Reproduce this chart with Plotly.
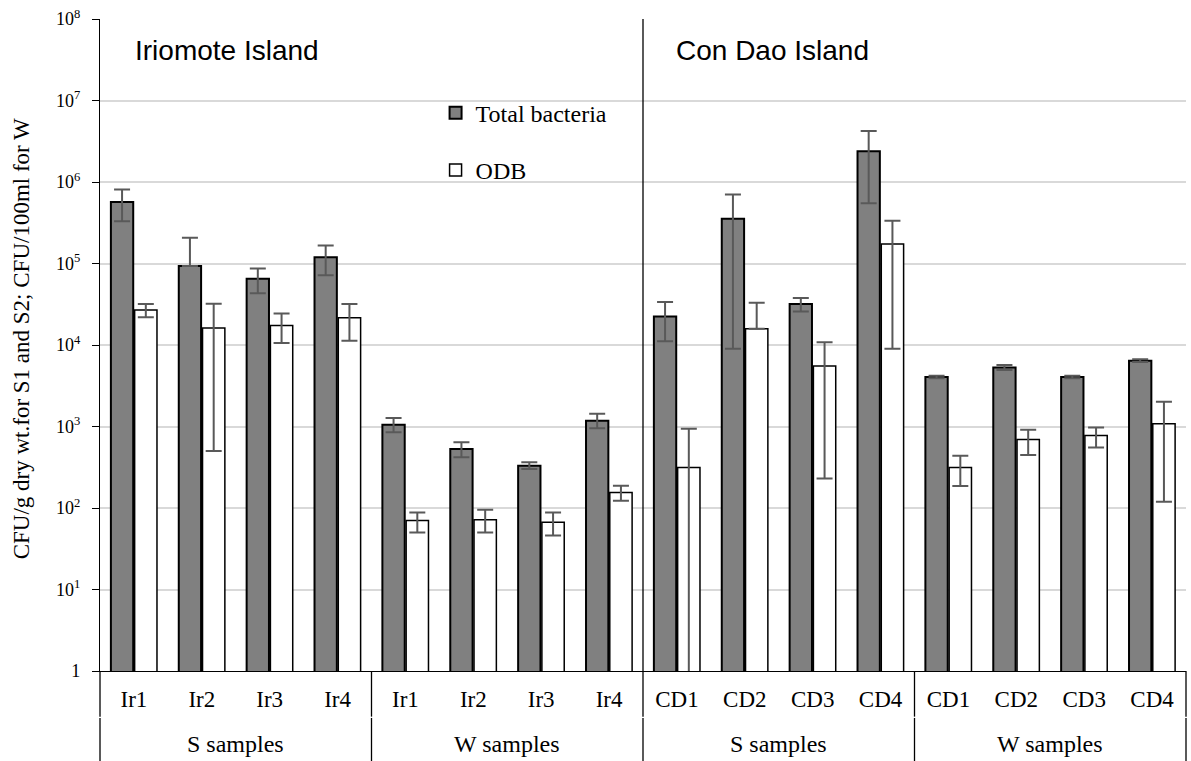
import plotly.graph_objects as go

# Sample labels (bottom row) and their sample-type groups (second row)
samples = ["Ir1", "Ir2", "Ir3", "Ir4", "Ir1", "Ir2", "Ir3", "Ir4",
           "CD1", "CD2", "CD3", "CD4", "CD1", "CD2", "CD3", "CD4"]
groups = ["S samples", "W samples", "S samples", "W samples"]
group_size = 4
islands = ["Iriomote Island", "Con Dao Island"]

# Total bacteria counts with error bar extents (upper / lower)
total_cfu = [5.7e5, 9.3e4, 6.5e4, 1.19e5, 1050, 530, 330, 1180,
             2.24e4, 3.55e5, 3.18e4, 2.38e6, 4050, 5310, 4050, 6420]
total_up = [2.4e5, 1.14e5, 2.2e4, 4.7e4, 220, 110, 33, 250,
            1.13e4, 3.45e5, 6.0e3, 1.84e6, 150, 380, 150, 250]
total_down = [2.4e5, 0, 2.2e4, 4.7e4, 200, 110, 30, 230,
              1.13e4, 3.46e5, 6.0e3, 1.83e6, 150, 380, 150, 250]

# Oil-degrading bacteria (ODB) counts with error bar extents
odb_cfu = [2.69e4, 1.62e4, 1.74e4, 2.16e4, 70, 72, 67, 155,
           315, 1.58e4, 5530, 1.73e5, 315, 695, 778, 1080]
odb_up = [5.0e3, 1.58e4, 7.0e3, 1.03e4, 18, 23, 21, 33,
          625, 1.72e4, 5.3e3, 1.62e5, 123, 219, 197, 930]
odb_down = [5.0e3, 1.57e4, 6.8e3, 1.03e4, 20, 22, 21, 32,
            315, 0, 5.3e3, 1.64e5, 129, 248, 224, 961]

y_ticks = [1, 10, 1e2, 1e3, 1e4, 1e5, 1e6, 1e7, 1e8]
y_ticktext = ["1"] + [f"10<sup>{k}</sup>" for k in range(1, 9)]

SERIF = "Liberation Serif, Times New Roman, serif"
SANS = "Liberation Sans, Arial, sans-serif"
ERR_COLOR = "#595959"

n = len(samples)
xpos = list(range(n))

fig = go.Figure()
fig.add_trace(go.Bar(
    x=xpos, y=total_cfu, name="Total bacteria", legendgroup="total",
    marker=dict(color="#808080", line=dict(color="black", width=2)),
    error_y=dict(type="data", symmetric=False, array=total_up, arrayminus=total_down,
                 color=ERR_COLOR, thickness=2, width=8),
))
fig.add_trace(go.Bar(
    x=xpos, y=odb_cfu, name="ODB", legendgroup="odb",
    marker=dict(color="white", line=dict(color="black", width=1.5)),
    error_y=dict(type="data", symmetric=False, array=odb_up, arrayminus=odb_down,
                 color=ERR_COLOR, thickness=2, width=8),
))

shapes = []
# Island separator inside the plotting area
island_split = len(samples) / 2 - 0.5
shapes.append(dict(type="line", xref="x", yref="paper", x0=island_split, x1=island_split,
                   y0=0, y1=1, line=dict(color="black", width=1.3)))
# Group dividers below the category axis (two stacked segments per boundary)
for b in range(len(groups) + 1):
    xp = (b * group_size) / n
    for y0, y1 in [(0, -0.070), (-0.072, -0.14)]:
        shapes.append(dict(type="line", xref="paper", yref="paper", x0=xp, x1=xp,
                           y0=y0, y1=y1, line=dict(color="black", width=1.3)))

annotations = []
for g, label in enumerate(groups):
    center = g * group_size + (group_size - 1) / 2
    annotations.append(dict(text=label, x=center, xref="x", y=-0.112, yref="paper",
                            showarrow=False, font=dict(family=SERIF, size=24, color="black"),
                            xanchor="center", yanchor="middle"))
for label, xp in zip(islands, [0.030, 0.529]):
    annotations.append(dict(text=label, x=xp, xref="paper", y=0.952, yref="paper",
                            showarrow=False, font=dict(family=SANS, size=28, color="black"),
                            xanchor="left", yanchor="middle"))
annotations.append(dict(text="CFU/g dry wt.for S1 and S2; CFU/100ml for W",
                        x=-0.072, xref="paper", y=0.51, yref="paper", textangle=-90,
                        showarrow=False, font=dict(family=SERIF, size=23, color="black"),
                        xanchor="center", yanchor="middle"))

fig.update_layout(
    width=1191, height=761, autosize=False,
    margin=dict(l=100, r=5, t=19, b=90),
    paper_bgcolor="white", plot_bgcolor="white",
    barmode="group", bargap=0.3, bargroupgap=0.06,
    shapes=shapes, annotations=annotations,
    showlegend=True,
    legend=dict(x=0.309, y=0.890, xanchor="left", yanchor="top",
                bgcolor="rgba(0,0,0,0)", font=dict(family=SERIF, size=24, color="black"),
                tracegroupgap=23, traceorder="grouped", itemclick=False),
    xaxis=dict(type="linear", range=[-0.5, n - 0.5], tickmode="array",
               tickvals=xpos, ticktext=samples, ticks="", showgrid=False,
               zeroline=False, showline=True, linecolor="black", linewidth=1.3,
               tickfont=dict(family=SERIF, size=23, color="black"), ticklabelstandoff=7),
    yaxis=dict(type="log", range=[0, 8], tickmode="array", tickvals=y_ticks,
               ticktext=y_ticktext, ticks="outside", ticklen=7, tickcolor="black",
               tickwidth=1.3, showline=True, linecolor="black", linewidth=1.3,
               showgrid=True, gridcolor="#d9d9d9", gridwidth=1.5, zeroline=False,
               tickfont=dict(family=SERIF, size=18, color="black"), ticklabelstandoff=8),
)

fig.write_html("out.html")
